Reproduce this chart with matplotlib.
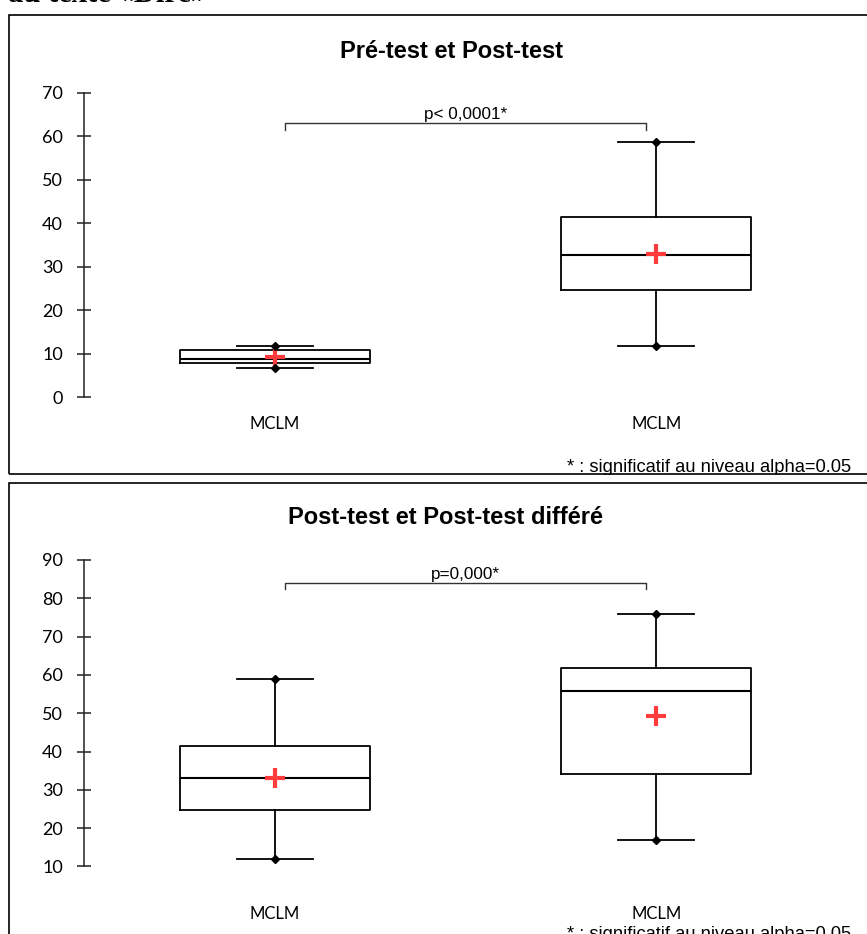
import matplotlib.pyplot as plt
from matplotlib.patches import Rectangle
import numpy as np

# --- data ---
categories = ["MCLM", "MCLM"]

# panel 1 : Pré-test / Post-test
p1_title = "Pré-test et Post-test"
p1_whislo = [6.7, 11.7]
p1_q1 = [7.8, 24.6]
p1_med = [8.75, 32.8]
p1_q3 = [10.9, 41.4]
p1_whishi = [11.8, 58.8]
p1_mean = [9.2, 32.9]
p1_pvalue = "p< 0,0001*"
p1_bracket = 63.1
p1_yticks = [0, 10, 20, 30, 40, 50, 60, 70]

# panel 2 : Post-test / Post-test différé
p2_title = "Post-test et Post-test différé"
p2_whislo = [12.0, 17.0]
p2_q1 = [24.7, 34.0]
p2_med = [33.0, 55.7]
p2_q3 = [41.4, 61.8]
p2_whishi = [59.0, 76.0]
p2_mean = [33.0, 49.2]
p2_pvalue = "p=0,000*"
p2_bracket = 84.1
p2_yticks = [10, 20, 30, 40, 50, 60, 70, 80, 90]

footnote = "* : significatif au niveau alpha=0.05"

W, H = 867, 934
fig = plt.figure(figsize=(W / 100, H / 100), dpi=100)

RED = "#ff3b3b"
TICKFONT = "Lato"
ARIAL = "Liberation Sans"


def fig_rect(left, top, right, bottom):
    return [left / W, 1 - bottom / H, (right - left) / W, (bottom - top) / H]


def draw_panel(ax, whislo, q1, med, q3, whishi, mean, ylim, yticks, bracket, ptxt, tick_pad):
    pos = np.arange(1, len(categories) + 1)
    stats = []
    for i in range(len(pos)):
        stats.append(dict(med=med[i], q1=q1[i], q3=q3[i], whislo=whislo[i],
                          whishi=whishi[i], mean=mean[i], fliers=[]))
    ax.bxp(stats, positions=pos, widths=0.5, capwidths=0.2, showmeans=True,
           boxprops=dict(color="black", linewidth=1.3),
           medianprops=dict(color="black", linewidth=1.5),
           whiskerprops=dict(color="black", linewidth=1.3),
           capprops=dict(color="black", linewidth=1.3),
           meanprops=dict(marker="+", markersize=15, markeredgewidth=3,
                          markeredgecolor=RED, markerfacecolor=RED))
    # diamonds at whisker ends
    ax.plot(pos, whislo, "D", color="black", markersize=4.5, zorder=4)
    ax.plot(pos, whishi, "D", color="black", markersize=4.5, zorder=4)

    # significance bracket
    drop = (ylim[1] - ylim[0]) * 0.02
    xl, xr = pos[0] + 0.026, pos[1] - 0.026
    ax.plot([xl, xl, xr, xr], [bracket - drop, bracket, bracket, bracket - drop],
            color="#333333", linewidth=1.0)
    ax.annotate(ptxt, xy=(pos.mean(), bracket), xytext=(0, 2.6),
                textcoords="offset points", ha="center", va="baseline",
                fontsize=12.3, family=ARIAL)

    ax.set_ylim(*ylim)
    ax.set_xlim(0.4987, 2.43)
    for s in ["top", "right", "bottom"]:
        ax.spines[s].set_visible(False)
    ax.spines["left"].set_bounds(yticks[0], yticks[-1])
    ax.spines["left"].set_color("#222222")
    ax.spines["left"].set_linewidth(1.1)
    ax.set_yticks(yticks)
    ax.tick_params(axis="y", direction="inout", length=9.4, width=1.1,
                   color="#222222", pad=10.4, labelsize=13)
    ax.set_xticks(pos)
    ax.set_xticklabels(categories)
    ax.tick_params(axis="x", length=0, pad=tick_pad, labelsize=12)
    for lab in ax.get_yticklabels() + ax.get_xticklabels():
        lab.set_family(TICKFONT)
    ax.patch.set_visible(False)


# top panel: value 0 at y=397.3 px, 4.35 px per unit
ax1 = fig.add_axes(fig_rect(84, 60, 820, 397.3))
draw_panel(ax1, p1_whislo, p1_q1, p1_med, p1_q3, p1_whishi, p1_mean,
           (0, (397.3 - 60) / 4.35), p1_yticks, p1_bracket, p1_pvalue, 13.3)

# bottom panel: value 10 at y=866.4 px, 3.83 px per unit
ax2 = fig.add_axes(fig_rect(84, 540, 820, 866.4))
draw_panel(ax2, p2_whislo, p2_q1, p2_med, p2_q3, p2_whishi, p2_mean,
           (10, 10 + (866.4 - 540) / 3.83), p2_yticks, p2_bracket, p2_pvalue, 28.5)

# titles
fig.text(452 / W, 1 - 52 / H, p1_title, ha="center", va="center",
         fontsize=17, fontweight="bold", family=ARIAL)
fig.text(446 / W, 1 - 517 / H, p2_title, ha="center", va="center",
         fontsize=17, fontweight="bold", family=ARIAL)

# footnotes
fig.text(567 / W, 1 - 472 / H, footnote, ha="left", va="baseline",
         fontsize=13.2, family=ARIAL)
fig.text(567 / W, 1 - 939 / H, footnote, ha="left", va="baseline",
         fontsize=13.2, family=ARIAL)

# cut-off text of the page above
fig.text(8 / W, 1 - 1.5 / H, "au texte «Dire»", ha="left", va="baseline",
         fontsize=22, fontweight="bold", family="Liberation Serif")

# white gap between the two chart images, then the frames
fig.add_artist(Rectangle((0, 1 - 482 / H), 1, 7.5 / H, transform=fig.transFigure,
                         facecolor="white", edgecolor="none", zorder=5))
fig.add_artist(Rectangle((9 / W, 1 - 474 / H), 900 / W, 459 / H, transform=fig.transFigure,
                         facecolor="none", edgecolor="black", linewidth=1.2, zorder=6))
fig.add_artist(Rectangle((9 / W, 1 - 960 / H), 900 / W, 477 / H, transform=fig.transFigure,
                         facecolor="none", edgecolor="black", linewidth=1.2, zorder=6))

fig.savefig("out.png", dpi=100)
